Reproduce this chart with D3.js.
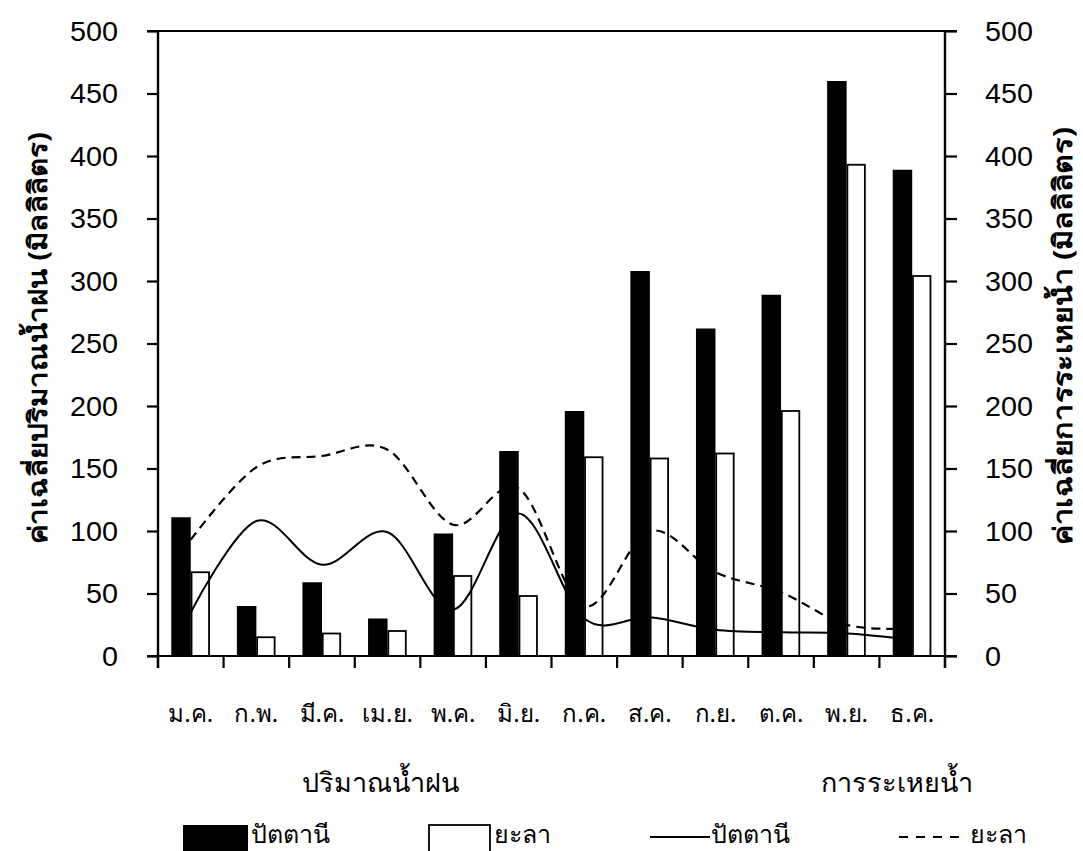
<!DOCTYPE html>
<html>
<head>
<meta charset="utf-8">
<script src="https://cdn.jsdelivr.net/npm/d3@7"></script>
<style>
  body { margin: 0; background: #fff; }
  svg { display: block; }
  text { font-family: "Liberation Sans", Arial, sans-serif; fill: #000; }
  .thai { font-family: "Noto Sans", "DejaVu Sans", sans-serif; }
</style>
</head>
<body>
<svg id="chart" width="1083" height="851"></svg>
<script>
// Monthly averages, Pattani vs Yala
const months = ["ม.ค.", "ก.พ.", "มี.ค.", "เม.ย.", "พ.ค.", "มิ.ย.", "ก.ค.", "ส.ค.", "ก.ย.", "ต.ค.", "พ.ย.", "ธ.ค."];
const rainPattani = [111, 40, 59, 30, 98, 164, 196, 308, 262, 289, 460, 389];
const rainYala = [67, 15, 18, 20, 64, 48, 159, 158, 162, 196, 393, 304];
const evapPattani = [35, 108, 73, 99, 37, 114, 30, 31, 21, 19, 18, 13];
const evapYala = [93, 151, 160, 165, 105, 134, 40, 100, 67, 51, 25, 22];
const yTicks = [0, 50, 100, 150, 200, 250, 300, 350, 400, 450, 500];

const svg = d3.select("#chart");
const plotL = 158, plotR = 945, plotT = 31, plotB = 656;

const x = d3.scaleBand().domain(months).range([plotL, plotR]).paddingInner(0).paddingOuter(0);
const yL = d3.scaleLinear().domain([0, 500]).range([plotB, plotT]);
const yR = d3.scaleLinear().domain([0, 500]).range([plotB, plotT]);
const barW = 19.5;
const cx = m => x(m) + x.bandwidth() / 2;

// evaporation curves (behind the bars)
const line = (ys) => d3.line()
  .x((d, i) => cx(months[i]))
  .y(d => ys(d))
  .curve(d3.curveCardinal.tension(0));

svg.append("path").datum(evapPattani)
  .attr("d", line(yR)).attr("fill", "none")
  .attr("stroke", "#000").attr("stroke-width", 2);
svg.append("path").datum(evapYala)
  .attr("d", line(yR)).attr("fill", "none")
  .attr("stroke", "#000").attr("stroke-width", 2.2)
  .attr("stroke-dasharray", "9,6");

// rainfall bars
svg.append("g").selectAll("rect").data(rainPattani).join("rect")
  .attr("x", (d, i) => cx(months[i]) - barW)
  .attr("y", d => yL(d))
  .attr("width", barW)
  .attr("height", d => yL(0) - yL(d))
  .attr("fill", "#000");
svg.append("g").selectAll("rect").data(rainYala).join("rect")
  .attr("x", (d, i) => cx(months[i]) + 0.75)
  .attr("y", d => yL(d))
  .attr("width", barW - 2)
  .attr("height", d => yL(0) - yL(d))
  .attr("fill", "none")
  .attr("stroke", "#000").attr("stroke-width", 1.8);

// frame and axes
const axG = svg.append("g");
axG.append("line").attr("x1", 147).attr("x2", 957).attr("y1", plotT).attr("y2", plotT)
  .attr("stroke", "#000").attr("stroke-width", 2.2);
axG.append("line").attr("x1", 147).attr("x2", 957).attr("y1", plotB).attr("y2", plotB)
  .attr("stroke", "#000").attr("stroke-width", 2.2);

const leftAxis = svg.append("g").attr("transform", `translate(${plotL},0)`)
  .call(d3.axisLeft(yL).tickValues(yTicks).tickSize(11).tickPadding(29).tickSizeOuter(0));
const rightAxis = svg.append("g").attr("transform", `translate(${plotR},0)`)
  .call(d3.axisRight(yR).tickValues(yTicks).tickSize(12).tickPadding(28).tickSizeOuter(0));
[leftAxis, rightAxis].forEach(g => {
  g.select(".domain").attr("stroke-width", 2.4).attr("d", `M0,${plotT}V${plotB + 12}`);
  g.selectAll(".tick line").attr("stroke-width", 2.2);
  g.selectAll(".tick text").attr("font-family", "Liberation Sans, Arial, sans-serif")
    .attr("font-size", 27).attr("dy", "0.35em")
    .attr("textLength", d => String(d).length * 16)
    .attr("lengthAdjust", "spacingAndGlyphs");
});

// month axis: ticks on category boundaries
const bounds = months.map(m => x(m)).concat([plotR]);
svg.append("g").selectAll("line").data(bounds).join("line")
  .attr("x1", d => d).attr("x2", d => d)
  .attr("y1", plotB).attr("y2", plotB + 12)
  .attr("stroke", "#000").attr("stroke-width", 2.2);
svg.append("g").selectAll("text").data(months).join("text")
  .attr("class", "thai")
  .attr("x", d => cx(d)).attr("y", 722)
  .attr("text-anchor", "middle").attr("font-size", 24)
  .text(d => d);

// axis titles
svg.append("text").attr("class", "thai")
  .attr("transform", `translate(47,338) rotate(-90)`)
  .attr("text-anchor", "middle").attr("font-size", 26).attr("font-weight", "bold")
  .attr("textLength", 412).attr("lengthAdjust", "spacingAndGlyphs")
  .text("ค่าเฉลี่ยปริมาณน้ำฝน (มิลลิลิตร)");
svg.append("text").attr("class", "thai")
  .attr("transform", `translate(1072,336) rotate(-90)`)
  .attr("text-anchor", "middle").attr("font-size", 26).attr("font-weight", "bold")
  .attr("textLength", 418).attr("lengthAdjust", "spacingAndGlyphs")
  .text("ค่าเฉลี่ยการระเหยน้ำ (มิลลิลิตร)");

// legend
const lg = svg.append("g").attr("class", "thai");
lg.append("text").attr("x", 380).attr("y", 792).attr("text-anchor", "middle")
  .attr("font-size", 27).text("ปริมาณน้ำฝน");
lg.append("text").attr("x", 897).attr("y", 792).attr("text-anchor", "middle")
  .attr("font-size", 27).text("การระเหยน้ำ");
lg.append("rect").attr("x", 183).attr("y", 825).attr("width", 65).attr("height", 30).attr("fill", "#000");
lg.append("text").attr("x", 251).attr("y", 843).attr("font-size", 25).text("ปัตตานี");
lg.append("rect").attr("x", 429).attr("y", 825).attr("width", 61).attr("height", 30)
  .attr("fill", "none").attr("stroke", "#000").attr("stroke-width", 1.8);
lg.append("text").attr("x", 494).attr("y", 843).attr("font-size", 25).text("ยะลา");
lg.append("line").attr("x1", 650).attr("x2", 710).attr("y1", 837).attr("y2", 837)
  .attr("stroke", "#000").attr("stroke-width", 2);
lg.append("text").attr("x", 711).attr("y", 843).attr("font-size", 25).text("ปัตตานี");
lg.append("line").attr("x1", 899).attr("x2", 962).attr("y1", 837).attr("y2", 837)
  .attr("stroke", "#000").attr("stroke-width", 2).attr("stroke-dasharray", "9,8");
lg.append("text").attr("x", 970).attr("y", 843).attr("font-size", 25).text("ยะลา");
</script>
</body>
</html>
